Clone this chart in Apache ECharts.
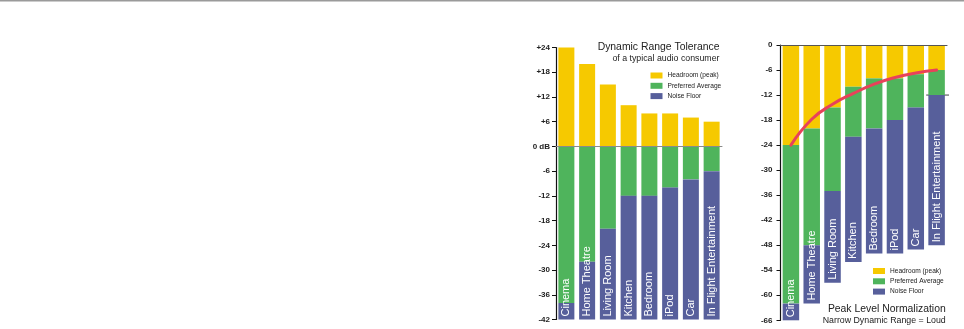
<!DOCTYPE html>
<html>
<head>
<meta charset="utf-8">
<style>
  html, body { margin: 0; padding: 0; background: #ffffff; }
  #chart { width: 964px; height: 329px; }
</style>
<script src="https://cdn.jsdelivr.net/npm/echarts@6/dist/echarts.min.js"></script>
</head>
<body>
<div id="chart"></div>
<script>
// ---- data ----
const categories = ['Cinema', 'Home Theatre', 'Living Room', 'Kitchen', 'Bedroom', 'iPod', 'Car', 'In Flight Entertainment'];
const headroomPeak = [24, 20, 15, 10, 8, 8, 7, 6];            // peak level above 0 dB
const preferredFloor = [-38, -28, -20, -12, -12, -10, -8, -6]; // lower edge of preferred average (dB)
const noiseFloorBottom = -42;                                   // bottom of the noise floor (dB)
const normalizationCurve = [-24, -17.8, -14.2, -11.6, -9.4, -7.8, -6.7, -6];
const leftTicks = { min: -42, max: 24, step: 6 };
const rightTicks = { min: -66, max: 0, step: 6 };
const seriesNames = ['Headroom (peak)', 'Preferred Average', 'Noise Floor'];
const leftTitle = ['Dynamic Range Tolerance', 'of a typical audio consumer'];
const rightTitle = ['Peak Level Normalization', 'Narrow Dynamic Range = Loud'];

// ---- derived segments ----
const prefSeg = preferredFloor.map(v => v);                      // 0 -> preferred floor
const noiseSeg = preferredFloor.map(v => noiseFloorBottom - v);  // preferred floor -> bottom
const headNeg = headroomPeak.map(v => -v);

const COLORS = { head: '#f6c900', pref: '#4fb45c', noise: '#575f9b', curve: '#e8425a' };
const FONT = '"Liberation Sans", Arial, Helvetica, sans-serif';

const catLabel = {
  show: true,
  position: 'insideBottom',
  rotate: 90,
  align: 'left',
  verticalAlign: 'middle',
  distance: 3,
  color: '#ffffff',
  fontSize: 11,
  fontFamily: FONT,
  formatter: p => p.name
};

const chart = echarts.init(document.getElementById('chart'), null, { renderer: 'canvas' });

const option = {
  animation: false,
  backgroundColor: '#ffffff',
  textStyle: { fontFamily: FONT },
  title: [
    {
      text: leftTitle[0], subtext: leftTitle[1], textAlign: 'right',
      left: 719.5, top: 41, padding: 0, itemGap: 0,
      textStyle: { fontSize: 10.4, fontWeight: 'normal', color: '#222', lineHeight: 12, fontFamily: FONT },
      subtextStyle: { fontSize: 8.8, color: '#222', lineHeight: 11, fontFamily: FONT }
    },
    {
      text: rightTitle[0], subtext: rightTitle[1], textAlign: 'right',
      left: 945.7, top: 303.5, padding: 0, itemGap: 0,
      textStyle: { fontSize: 10.4, fontWeight: 'normal', color: '#222', lineHeight: 12, fontFamily: FONT },
      subtextStyle: { fontSize: 8.8, color: '#222', lineHeight: 11, fontFamily: FONT }
    }
  ],
  legend: [
    {
      data: seriesNames, orient: 'vertical', left: 650.5, top: 72, padding: 0,
      itemWidth: 12, itemHeight: 6, itemGap: 3.3, icon: 'rect',
      textStyle: { fontSize: 6.6, color: '#222', lineHeight: 7, fontFamily: FONT },
      selectedMode: false
    },
    {
      data: seriesNames, orient: 'vertical', left: 873, top: 267.5, padding: 0,
      itemWidth: 12, itemHeight: 6, itemGap: 3.3, icon: 'rect',
      textStyle: { fontSize: 6.6, color: '#222', lineHeight: 7, fontFamily: FONT },
      selectedMode: false
    }
  ],
  grid: [
    { left: 556, right: 242, top: 47.5, bottom: 9.5 },
    { left: 780.5, right: 17, top: 45, bottom: 8.7 }
  ],
  xAxis: [
    {
      type: 'category', gridIndex: 0, data: categories,
      axisLine: { show: true, onZero: true, lineStyle: { color: '#8a8a8a', width: 1 } },
      axisTick: { show: false }, axisLabel: { show: false }, z: 5
    },
    {
      type: 'category', gridIndex: 1, data: categories,
      axisLine: { show: true, onZero: true, lineStyle: { color: '#555', width: 1.2 } },
      axisTick: { show: false }, axisLabel: { show: false }, z: 5
    }
  ],
  yAxis: [
    {
      type: 'value', gridIndex: 0, min: leftTicks.min, max: leftTicks.max, interval: leftTicks.step,
      axisLine: { show: true, lineStyle: { color: '#111', width: 1.2 } },
      axisTick: { show: true, length: 4, lineStyle: { color: '#111', width: 1 } },
      splitLine: { show: false },
      axisLabel: {
        margin: 6, fontSize: 8, fontWeight: 'bold', color: '#222', fontFamily: FONT,
        formatter: v => v > 0 ? '+' + v : (v === 0 ? '0 dB' : String(v))
      }
    },
    {
      type: 'value', gridIndex: 1, min: rightTicks.min, max: rightTicks.max, interval: rightTicks.step,
      axisLine: { show: true, lineStyle: { color: '#111', width: 1.2 } },
      axisTick: { show: true, length: 4, lineStyle: { color: '#111', width: 1 } },
      splitLine: { show: false },
      axisLabel: { margin: 8, fontSize: 8, fontWeight: 'bold', color: '#222', fontFamily: FONT }
    }
  ],
  series: [
    // left chart
    { name: seriesNames[0], type: 'bar', xAxisIndex: 0, yAxisIndex: 0, stack: 'L', barWidth: 16,
      data: headroomPeak, itemStyle: { color: COLORS.head } },
    { name: seriesNames[1], type: 'bar', xAxisIndex: 0, yAxisIndex: 0, stack: 'L', barWidth: 16,
      data: prefSeg, itemStyle: { color: COLORS.pref } },
    { name: seriesNames[2], type: 'bar', xAxisIndex: 0, yAxisIndex: 0, stack: 'L', barWidth: 16,
      data: noiseSeg, itemStyle: { color: COLORS.noise }, label: catLabel },
    // right chart
    { name: seriesNames[0], type: 'bar', xAxisIndex: 1, yAxisIndex: 1, stack: 'R', barWidth: 16.5,
      data: headNeg, itemStyle: { color: COLORS.head } },
    { name: seriesNames[1], type: 'bar', xAxisIndex: 1, yAxisIndex: 1, stack: 'R', barWidth: 16.5,
      data: prefSeg, itemStyle: { color: COLORS.pref } },
    { name: seriesNames[2], type: 'bar', xAxisIndex: 1, yAxisIndex: 1, stack: 'R', barWidth: 16.5,
      data: noiseSeg, itemStyle: { color: COLORS.noise }, label: catLabel },
    { name: 'curve', type: 'line', xAxisIndex: 1, yAxisIndex: 1, smooth: 0.5, symbol: 'none',
      data: normalizationCurve, lineStyle: { color: COLORS.curve, width: 3, cap: 'round' }, z: 10 }
  ]
};

chart.setOption(option);

// decorations derived from the library's scales
const pA = chart.convertToPixel({ xAxisIndex: 1, yAxisIndex: 1 }, [categories.length - 1, -12]);
const pB = chart.convertToPixel({ xAxisIndex: 1, yAxisIndex: 1 }, [categories.length - 2, -12]);
const half = (pA[0] - pB[0]) / 2;
chart.setOption({
  graphic: [
    { type: 'rect', left: 0, top: 0, shape: { x: 0, y: 0, width: 964, height: 1.5 }, style: { fill: '#9a9a9a' }, z: 100 },
    { type: 'line', shape: { x1: pA[0] - half, y1: pA[1], x2: pA[0] + half + 2, y2: pA[1] },
      style: { stroke: '#444', lineWidth: 1 }, z: 1 }
  ]
});
</script>
</body>
</html>
